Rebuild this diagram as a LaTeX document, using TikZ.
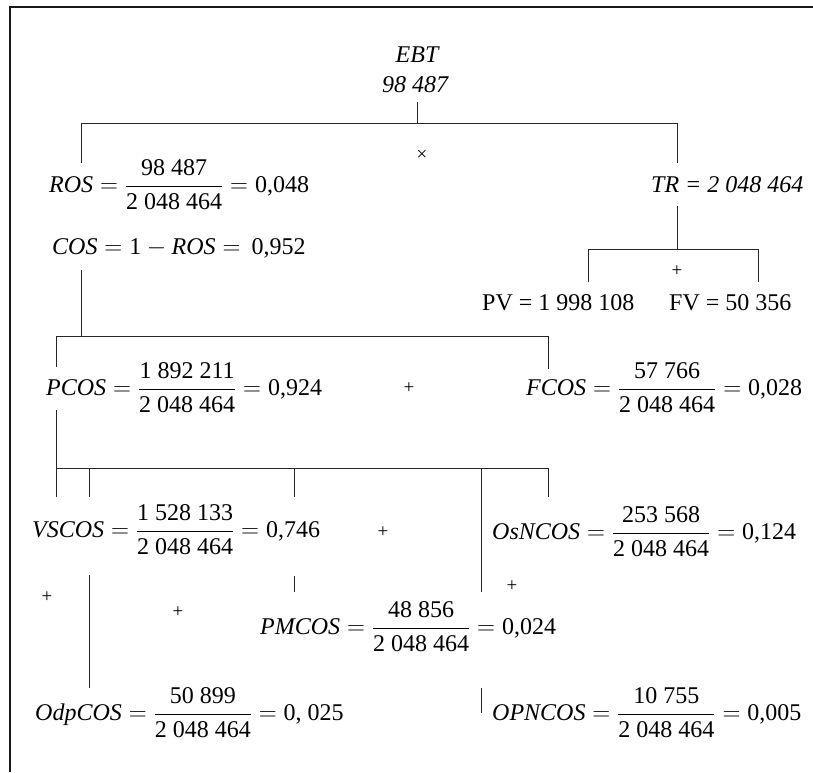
\documentclass[tikz,border=0pt]{standalone}
\usepackage{amsmath}
\usepackage{fontspec}
\setmainfont{Liberation Serif}
\usetikzlibrary{positioning}

\newcommand\costfrac[2]{\dfrac{\text{#1}}{\text{#2}}}

\begin{document}
\begin{tikzpicture}[
x=1pt, y=-1pt,
term/.style={inner sep=0pt, anchor=west, font=\fontsize{24}{28}\selectfont},
head/.style={inner sep=0pt, font=\fontsize{24}{28}\selectfont\itshape},
op/.style={inner sep=0pt, font=\fontsize{19}{22}\selectfont},
link/.style={line width=1pt, black!85},
frame/.style={line width=1.4pt, black!90}
]
\useasboundingbox (0,0) rectangle (813,772);
\draw[frame] (813,7) -- (10,7) -- (10,772);

% nodes of the tree
\node[head] (ebt) at (417,55) {EBT};
\node[head] (ebtval) at (415,85) {98~487};
\node[term] (ros) at (49,185) {$\textit{ROS} = \costfrac{98~487}{2~048~464} = \text{0,048}$};
\node[term] (tr) at (651,185) {\textit{TR = 2~048~464}};
\node[term] (cos) at (52,248) {$\textit{COS} = \text{1} - \textit{ROS} = \,\text{0,952}$};
\node[term] (pv) at (482,303) {PV = 1~998~108};
\node[term] (fv) at (669,303) {FV = 50~356};
\node[term] (pcos) at (46,388) {$\textit{PCOS} = \costfrac{1~892~211}{2~048~464} = \text{0,924}$};
\node[term] (fcos) at (526,388) {$\textit{FCOS} = \costfrac{57~766}{2~048~464} = \text{0,028}$};
\node[term] (vscos) at (32,530) {$\textit{VSCOS} = \costfrac{1~528~133}{2~048~464} = \text{0,746}$};
\node[term] (osncos) at (492,532) {$\textit{OsNCOS} = \costfrac{253~568}{2~048~464} = \text{0,124}$};
\node[term] (pmcos) at (260,627) {$\textit{PMCOS} = \costfrac{48~856}{2~048~464} = \text{0,024}$};
\node[term] (odpcos) at (35,713) {$\textit{OdpCOS} = \costfrac{50~899}{2~048~464} = \text{0, 025}$};
\node[term] (opncos) at (492,713) {$\textit{OPNCOS} = \costfrac{10~755}{2~048~464} = \text{0,005}$};

% operators
\node[op] (mul) at (422,155) {×};
\node[op] (addtr) at (677,271) {+};
\node[op] (addcos) at (409,388) {+};
\node[op] (addvs) at (383,532) {+};
\node[op] (addodp) at (47,597) {+};
\node[op] (addpm) at (178,612) {+};
\node[op] (addopn) at (512,586) {+};

% junctions
\coordinate (ebtfoot) at (417,102);
\coordinate (ebtbar) at (417,123);
\coordinate (rosbar) at (81,123);
\coordinate (trbar) at (677,123);
\coordinate (rosend) at (81,163);
\coordinate (trend) at (677,163);
\coordinate (trfoot) at (677,206);
\coordinate (trsplit) at (677,249);
\coordinate (pvbar) at (588,249);
\coordinate (fvbar) at (758,249);
\coordinate (pvend) at (588,282);
\coordinate (fvend) at (758,282);
\coordinate (cosfoot) at (81,270);
\coordinate (cosbar) at (81,336);
\coordinate (pcosbar) at (56,336);
\coordinate (fcosbar) at (548,336);
\coordinate (pcosend) at (56,367);
\coordinate (fcosend) at (548,369);
\coordinate (pcosfoot) at (56,410);
\coordinate (vsbar) at (56,468);
\coordinate (odpbar) at (89,468);
\coordinate (pmbar) at (294,468);
\coordinate (opnbar) at (481,468);
\coordinate (osnbar) at (548,468);
\coordinate (vsend) at (56,497);
\coordinate (odpend) at (89,497);
\coordinate (pmend) at (294,497);
\coordinate (opnend) at (481,592);
\coordinate (osnend) at (548,497);
\coordinate (odptop) at (89,575);
\coordinate (odpleg) at (89,688);
\coordinate (pmtop) at (294,576);
\coordinate (pmleg) at (294,592);
\coordinate (opntop) at (481,688);
\coordinate (opnleg) at (481,713);

% connectors
\draw[link] (ebtfoot) -- (ebtbar);
\draw[link] (rosend) -- (rosbar) -- (trbar) -- (trend);
\draw[link] (trfoot) -- (trsplit);
\draw[link] (pvend) -- (pvbar) -- (fvbar) -- (fvend);
\draw[link] (cosfoot) -- (cosbar);
\draw[link] (pcosend) -- (pcosbar) -- (fcosbar) -- (fcosend);
\draw[link] (pcosfoot) -- (vsbar) -- (osnbar) -- (osnend);
\draw[link] (vsbar) -- (vsend);
\draw[link] (odpbar) -- (odpend);
\draw[link] (pmbar) -- (pmend);
\draw[link] (opnbar) -- (opnend);
\draw[link] (odptop) -- (odpleg);
\draw[link] (pmtop) -- (pmleg);
\draw[link] (opntop) -- (opnleg);
\end{tikzpicture}
\end{document}
